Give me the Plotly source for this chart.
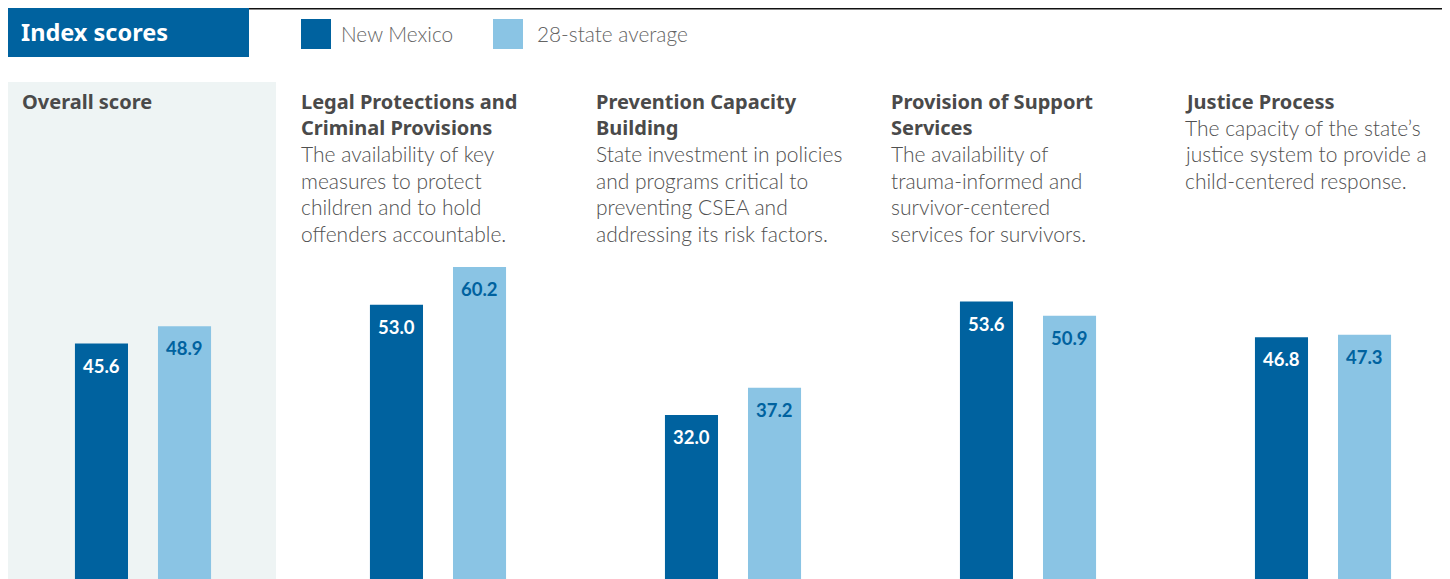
import plotly.graph_objects as go

# ---------------- data ----------------
categories = ["Overall score", "Legal Protections and Criminal Provisions",
              "Prevention Capacity Building", "Provision of Support Services",
              "Justice Process"]
title_lines = [["Overall score"],
               ["Legal Protections and", "Criminal Provisions"],
               ["Prevention Capacity", "Building"],
               ["Provision of Support", "Services"],
               ["Justice Process"]]
desc_lines = [[],
              ["The availability of key", "measures to protect",
               "children and to hold", "offenders accountable."],
              ["State investment in policies", "and programs critical to",
               "preventing CSEA and", "addressing its risk factors."],
              ["The availability of", "trauma-informed and",
               "survivor-centered", "services for survivors."],
              ["The capacity of the state\u2019s", "justice system to provide a",
               "child-centered response."]]
new_mexico = [45.6, 53.0, 32.0, 53.6, 46.8]
state_avg = [48.9, 60.2, 37.2, 50.9, 47.3]
series_names = ["New Mexico", "28-state average"]
header_text = "Index scores"

# ---------------- style ----------------
W, H = 1450, 579
OFF = 8  # page body margin
DARK = "#00629f"
LIGHT = "#8ac4e4"
PANEL_BG = "#eef4f4"
TITLE_C = "#4a4a4a"
DESC_C = "#505050"
LEG_C = "#646464"
FONT = "Lato"
BOLD_FONT = "Noto Sans"
LINE_H = 26.5


def px(x):
    return (x - OFF) / W


def py(y):
    return 1 - (y - OFF) / H


fig = go.Figure()
fig.add_trace(go.Bar(x=categories, y=new_mexico, name=series_names[0],
                     marker=dict(color=DARK, line=dict(width=0)), hoverinfo="skip"))
fig.add_trace(go.Bar(x=categories, y=state_avg, name=series_names[1],
                     marker=dict(color=LIGHT, line=dict(width=0)), hoverinfo="skip"))

annotations = []
shapes = []

# panel background for overall score
shapes.append(dict(type="rect", xref="paper", yref="paper", x0=px(6), x1=px(276),
                   y0=-0.1, y1=py(82), fillcolor=PANEL_BG, line=dict(width=0), layer="below"))

# header box and rule
shapes.append(dict(type="rect", xref="paper", yref="paper", x0=px(7), x1=px(249),
                   y0=py(57), y1=py(7), fillcolor=DARK, line=dict(width=0)))
shapes.append(dict(type="line", xref="paper", yref="paper", x0=px(249), x1=1.05,
                   y0=py(8), y1=py(8), line=dict(color="#111111", width=3)))
annotations.append(dict(text="<b>" + header_text + "</b>", xref="paper", yref="paper",
                        x=px(19), y=py(32), xanchor="left", yanchor="middle",
                        showarrow=False, font=dict(family=BOLD_FONT, size=23.5, color="white")))

# legend
leg_sq_x = [301, 493]
leg_txt_x = [339, 535]
for i, (c, nm) in enumerate(zip([DARK, LIGHT], series_names)):
    shapes.append(dict(type="rect", xref="paper", yref="paper", x0=px(leg_sq_x[i]),
                       x1=px(leg_sq_x[i] + 30), y0=py(49), y1=py(19),
                       fillcolor=c, line=dict(width=0)))
    annotations.append(dict(text=nm, xref="paper", yref="paper", x=px(leg_txt_x[i]),
                            y=py(34), xanchor="left", yanchor="middle", showarrow=False,
                            font=dict(family=FONT, size=20.8, weight=300, color=LEG_C)))

# panel titles + descriptions
title_x = [20, 299, 594, 889, 1183]
for i in range(len(categories)):
    for k, t in enumerate(title_lines[i]):
        annotations.append(dict(text="<b>" + t + "</b>", xref="paper", yref="paper",
                                x=px(title_x[i]), y=py(101 + LINE_H * k),
                                xanchor="left", yanchor="middle", align="left",
                                showarrow=False,
                                font=dict(family=BOLD_FONT, size=20, color=TITLE_C)))
    n = len(title_lines[i])
    for k, d in enumerate(desc_lines[i]):
        annotations.append(dict(text=d, xref="paper", yref="paper",
                                x=px(title_x[i]), y=py(101 + LINE_H * (n + k)),
                                xanchor="left", yanchor="middle", align="left",
                                showarrow=False,
                                font=dict(family=FONT, size=21, weight=300, color=DESC_C)))

# value labels
for vals, shift, col in [(new_mexico, -41.5, "white"), (state_avg, 41.5, DARK)]:
    for c, v in zip(categories, vals):
        annotations.append(dict(text="<b>%.1f</b>" % v, x=c, y=v, xref="x", yref="y",
                                xshift=shift, yshift=-9, xanchor="center", yanchor="top",
                                showarrow=False,
                                font=dict(family=FONT, size=18.5, color=col)))

fig.update_layout(
    width=W, height=H, autosize=False,
    margin=dict(l=0, r=0, t=0, b=0, pad=0),
    paper_bgcolor="white", plot_bgcolor="rgba(0,0,0,0)",
    barmode="group", bargap=0.437, bargroupgap=0.361,
    showlegend=False,
    xaxis=dict(range=[-0.4576, 4.4576], showticklabels=False, showgrid=False,
               zeroline=False, showline=False, fixedrange=True),
    yaxis=dict(range=[-0.76, 109.52], showticklabels=False, showgrid=False,
               zeroline=False, showline=False, fixedrange=True),
    shapes=shapes, annotations=annotations,
    font=dict(family=FONT),
)

fig.write_html("out.html", config={"displayModeBar": False})
